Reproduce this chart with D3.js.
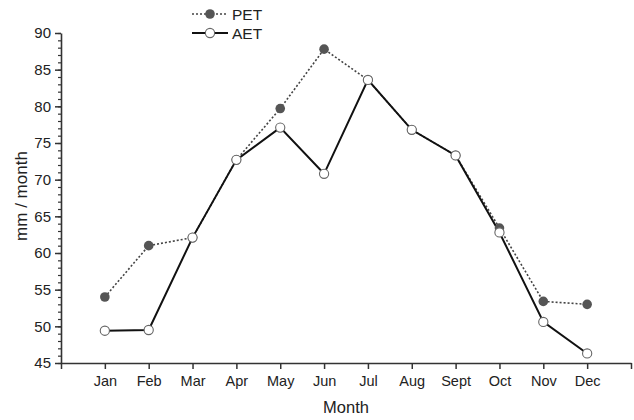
<!DOCTYPE html>
<html>
<head>
<meta charset="utf-8">
<script src="https://cdn.jsdelivr.net/npm/d3@7"></script>
<style>
  body { margin: 0; background: #fff; }
  svg { font-family: "Liberation Sans", Arial, sans-serif; }
</style>
</head>
<body>
<div id="chart"></div>
<script>
// Chart size
var width = 634, height = 420;

// Data
var months = ["Jan", "Feb", "Mar", "Apr", "May", "Jun", "Jul", "Aug", "Sept", "Oct", "Nov", "Dec"];
var pet = [54.0, 61.0, 62.1, 72.7, 79.7, 87.8, 83.6, 76.8, 73.3, 63.4, 53.4, 53.0];
var aet = [49.4, 49.5, 62.1, 72.7, 77.1, 70.8, 83.6, 76.8, 73.3, 62.8, 50.6, 46.3];
var yTicks = [45, 50, 55, 60, 65, 70, 75, 80, 85, 90];

var svg = d3.select("#chart").append("svg")
    .attr("width", width)
    .attr("height", height);

// x: month index 1..12 with a gap on both ends
var x = d3.scaleLinear().domain([0, 13]).range([61, 631]);
var y = d3.scaleLinear().domain([45, 90]).range([363, 33]);

var axisColor = "#333";

// minor y ticks
svg.append("g")
    .attr("transform", "translate(61,0)")
    .call(d3.axisLeft(y).tickValues(d3.range(45, 91, 1)).tickSize(3).tickFormat(""))
    .call(g => g.select(".domain").remove())
    .selectAll("line").attr("stroke", axisColor).attr("stroke-width", 1.2);

// y axis
var yAxis = svg.append("g")
    .attr("transform", "translate(61,0)")
    .call(d3.axisLeft(y).tickValues(yTicks).tickSize(6).tickPadding(4).tickSizeOuter(0));
yAxis.select(".domain").attr("stroke", axisColor).attr("stroke-width", 1.6);
yAxis.selectAll(".tick line").attr("stroke", axisColor).attr("stroke-width", 1.5);
yAxis.selectAll("text").attr("font-size", 15).attr("fill", "#222")
    .attr("font-family", "'Liberation Sans', Arial, sans-serif");

// x axis
var xAxis = svg.append("g")
    .attr("transform", "translate(0,363)")
    .call(d3.axisBottom(x).tickValues(d3.range(0, 14)).tickSize(6).tickPadding(7).tickSizeOuter(0)
        .tickFormat(function (d) { return (d >= 1 && d <= 12) ? months[d - 1] : ""; }));
xAxis.select(".domain").attr("stroke", axisColor).attr("stroke-width", 1.6);
xAxis.selectAll(".tick line").attr("stroke", axisColor).attr("stroke-width", 1.5);
xAxis.selectAll("text").attr("font-size", 14.5).attr("fill", "#222")
    .attr("font-family", "'Liberation Sans', Arial, sans-serif");

// axis titles
svg.append("text")
    .attr("x", 346).attr("y", 413)
    .attr("text-anchor", "middle")
    .attr("font-size", 16.5).attr("fill", "#222")
    .text("Month");

svg.append("text")
    .attr("transform", "translate(27,196) rotate(-90)")
    .attr("text-anchor", "middle")
    .attr("font-size", 17).attr("fill", "#222")
    .text("mm / month");

var line = d3.line()
    .x(function (d, i) { return x(i + 1); })
    .y(function (d) { return y(d); });

// PET dotted line
svg.append("path")
    .datum(pet)
    .attr("d", line)
    .attr("fill", "none")
    .attr("stroke", "#444")
    .attr("stroke-width", 1.6)
    .attr("stroke-dasharray", "2,2");

// AET solid line
svg.append("path")
    .datum(aet)
    .attr("d", line)
    .attr("fill", "none")
    .attr("stroke", "#111")
    .attr("stroke-width", 2);

// PET markers
svg.selectAll(".pet")
    .data(pet)
    .enter().append("circle")
    .attr("class", "pet")
    .attr("cx", function (d, i) { return x(i + 1); })
    .attr("cy", function (d) { return y(d); })
    .attr("r", 4.8)
    .attr("fill", "#555");

// AET markers
svg.selectAll(".aet")
    .data(aet)
    .enter().append("circle")
    .attr("class", "aet")
    .attr("cx", function (d, i) { return x(i + 1); })
    .attr("cy", function (d) { return y(d); })
    .attr("r", 4.6)
    .attr("fill", "#fff")
    .attr("stroke", "#666")
    .attr("stroke-width", 1.1);

// legend
var legend = svg.append("g");
legend.append("line")
    .attr("x1", 192).attr("x2", 228).attr("y1", 14).attr("y2", 14)
    .attr("stroke", "#444").attr("stroke-width", 1.6).attr("stroke-dasharray", "2,2");
legend.append("circle").attr("cx", 210).attr("cy", 14).attr("r", 4.8).attr("fill", "#555");
legend.append("text").attr("x", 232).attr("y", 19.5).attr("font-size", 15.5).attr("fill", "#222").text("PET");

legend.append("line")
    .attr("x1", 192).attr("x2", 228).attr("y1", 33).attr("y2", 33)
    .attr("stroke", "#111").attr("stroke-width", 2);
legend.append("circle").attr("cx", 210).attr("cy", 33).attr("r", 4.6)
    .attr("fill", "#fff").attr("stroke", "#666").attr("stroke-width", 1.1);
legend.append("text").attr("x", 232).attr("y", 38.5).attr("font-size", 15.5).attr("fill", "#222").text("AET");
</script>
</body>
</html>
